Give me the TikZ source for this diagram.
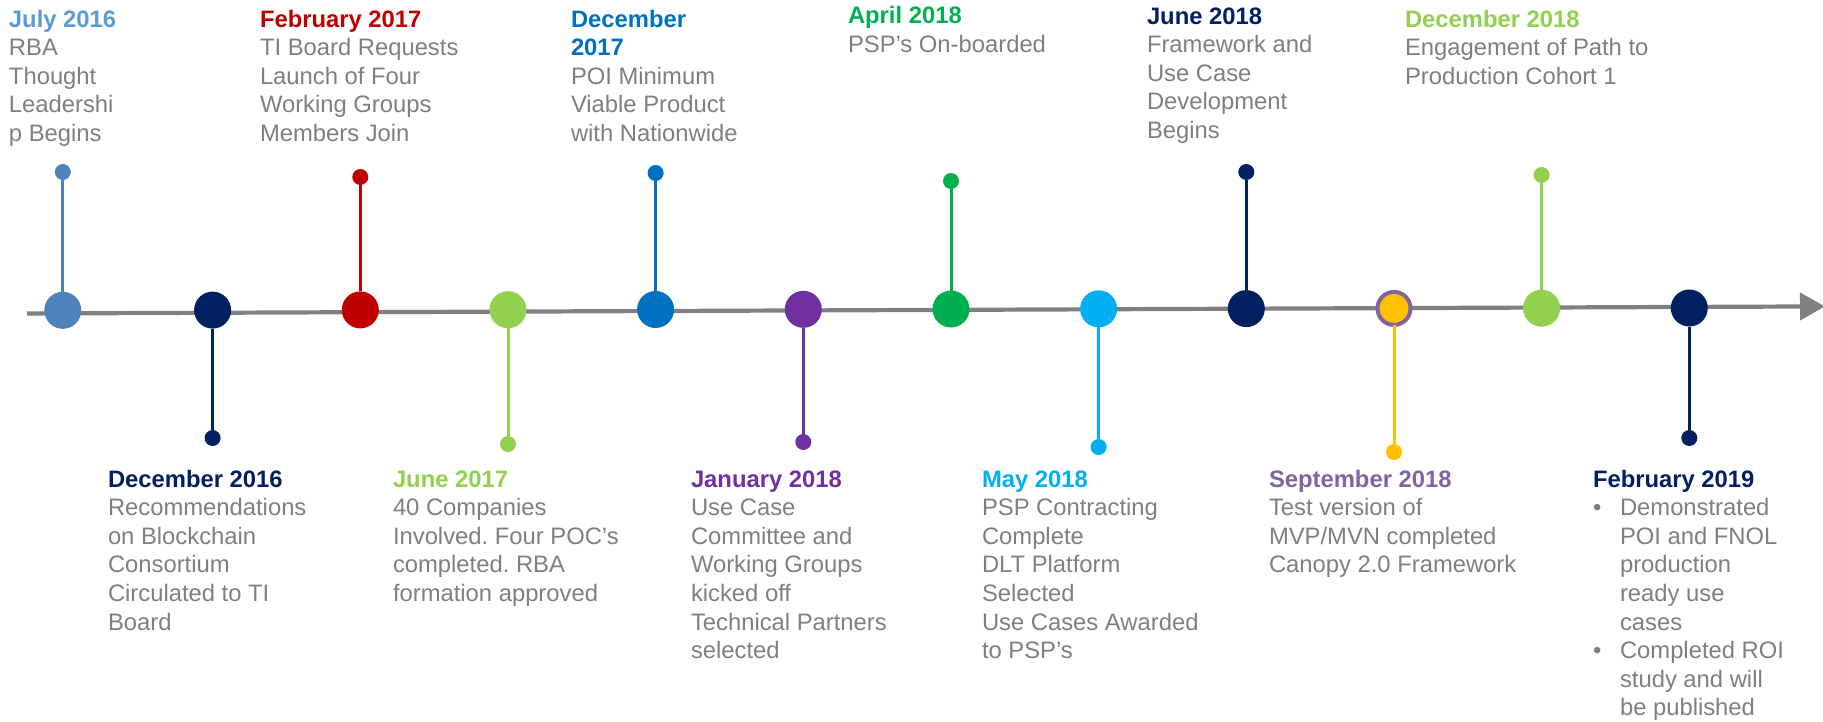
\documentclass[tikz,border=0pt]{standalone}
\usepackage{fontspec}
\setmainfont{Liberation Sans}
\usetikzlibrary{arrows.meta}
\frenchspacing

% palette
\definecolor{txtgray}{HTML}{7F7F7F}
\definecolor{axisgray}{HTML}{808080}
\definecolor{steel}{HTML}{4F81BD}
\definecolor{skyhead}{HTML}{5B9BD5}
\definecolor{navy}{HTML}{002060}
\definecolor{darkred}{HTML}{C00000}
\definecolor{lime}{HTML}{92D050}
\definecolor{midblue}{HTML}{0070C0}
\definecolor{violet}{HTML}{7030A0}
\definecolor{leaf}{HTML}{00B050}
\definecolor{cyanblue}{HTML}{00B0F0}
\definecolor{lilac}{HTML}{8064A2}
\definecolor{amber}{HTML}{FFC000}

% heading line of a text block
\newcommand{\headline}[2]{\textcolor{#1}{\bfseries #2}}
% bullet item helpers
\newcommand{\bulletitem}{\makebox[27pt][l]{•}}
\newcommand{\bulletcont}{\hspace*{27pt}}

\tikzset{
  blocktext/.style={anchor=base west, inner sep=0pt, outer sep=0pt, text=txtgray,
                    font=\fontsize{23.8}{28.6}\selectfont},
  bigdot/.style={circle, inner sep=0pt, outer sep=0pt, minimum size=37pt, fill=#1},
  smalldot/.style={circle, inner sep=0pt, outer sep=0pt, minimum size=16pt, fill=#1},
  stemline/.style={draw=#1, line width=3pt},
}

\begin{document}
\begin{tikzpicture}[x=1pt,y=-1pt]
\useasboundingbox (0,0) rectangle (1823,721);

% time axis
\coordinate (axisstart) at (27,313.5);
\coordinate (axisend) at (1825,306.4);
\draw[axisgray, line width=4.2pt, -{Triangle[length=25pt,width=27pt]}] (axisstart) -- (axisend);

% milestone markers on the axis
\node[bigdot=steel]    (m1)  at (62.8,310.3) {};
\node[bigdot=navy]     (m2)  at (212.6,310.1) {};
\node[bigdot=darkred]  (m3)  at (360.3,309.9) {};
\node[bigdot=lime]     (m4)  at (508.0,309.7) {};
\node[bigdot=midblue]  (m5)  at (655.6,309.5) {};
\node[bigdot=violet]   (m6)  at (803.3,309.3) {};
\node[bigdot=leaf]     (m7)  at (951.0,309.0) {};
\node[bigdot=cyanblue] (m8)  at (1098.6,308.8) {};
\node[bigdot=navy]     (m9)  at (1246.3,308.6) {};
\node[circle, inner sep=0pt, outer sep=0pt, minimum size=33pt, fill=amber, draw=lilac, line width=4pt]
                       (m10) at (1394.0,308.4) {};
\node[bigdot=lime]     (m11) at (1541.6,308.2) {};
\node[bigdot=navy]     (m12) at (1689.3,308.0) {};

% pin heads
\node[smalldot=steel]    (p1)  at (62.8,172) {};
\node[smalldot=navy]     (p2)  at (212.6,438) {};
\node[smalldot=darkred]  (p3)  at (360.3,177) {};
\node[smalldot=lime]     (p4)  at (508.0,444) {};
\node[smalldot=midblue]  (p5)  at (655.6,173) {};
\node[smalldot=violet]   (p6)  at (803.3,442) {};
\node[smalldot=leaf]     (p7)  at (951.0,181) {};
\node[smalldot=cyanblue] (p8)  at (1098.6,447) {};
\node[smalldot=navy]     (p9)  at (1246.3,172) {};
\node[smalldot=amber]    (p10) at (1394.0,452) {};
\node[smalldot=lime]     (p11) at (1541.6,175) {};
\node[smalldot=navy]     (p12) at (1689.3,438) {};

% pins joining each marker to its head
\draw[stemline=steel]    (m1)  -- (p1);
\draw[stemline=navy]     (m2)  -- (p2);
\draw[stemline=darkred]  (m3)  -- (p3);
\draw[stemline=lime]     (m4)  -- (p4);
\draw[stemline=midblue]  (m5)  -- (p5);
\draw[stemline=violet]   (m6)  -- (p6);
\draw[stemline=leaf]     (m7)  -- (p7);
\draw[stemline=cyanblue] (m8)  -- (p8);
\draw[stemline=navy]     (m9)  -- (p9);
\draw[stemline=amber]    (m10) -- (p10);
\draw[stemline=lime]     (m11) -- (p11);
\draw[stemline=navy]     (m12) -- (p12);

% upper text blocks
\node[blocktext] (t1) at (9,27) {\begin{tabular}[t]{@{}l@{}}
  \headline{skyhead}{July 2016}\\ RBA\\ Thought\\ Leadershi\\ p Begins\end{tabular}};
\node[blocktext] (t3) at (260,27) {\begin{tabular}[t]{@{}l@{}}
  \headline{darkred}{February 2017}\\ TI Board Requests\\ Launch of Four\\ Working Groups\\ Members Join\end{tabular}};
\node[blocktext] (t5) at (571,27) {\begin{tabular}[t]{@{}l@{}}
  \headline{midblue}{December}\\ \headline{midblue}{2017}\\ POI Minimum\\ Viable Product\\ with Nationwide\end{tabular}};
\node[blocktext] (t7) at (848,23.5) {\begin{tabular}[t]{@{}l@{}}
  \headline{leaf}{April 2018}\\ PSP’s On-boarded\end{tabular}};
\node[blocktext] (t9) at (1147,24) {\begin{tabular}[t]{@{}l@{}}
  \headline{navy}{June 2018}\\ Framework and\\ Use Case\\ Development\\ Begins\end{tabular}};
\node[blocktext] (t11) at (1405,27) {\begin{tabular}[t]{@{}l@{}}
  \headline{lime}{December 2018}\\ Engagement of Path to\\ Production Cohort 1\end{tabular}};

% lower text blocks
\node[blocktext] (t2) at (108,487) {\begin{tabular}[t]{@{}l@{}}
  \headline{navy}{December 2016}\\ Recommendations\\ on Blockchain\\ Consortium\\ Circulated to TI\\ Board\end{tabular}};
\node[blocktext] (t4) at (393,487) {\begin{tabular}[t]{@{}l@{}}
  \headline{lime}{June 2017}\\ 40 Companies\\ Involved. Four POC’s\\ completed. RBA\\ formation approved\end{tabular}};
\node[blocktext] (t6) at (691,487) {\begin{tabular}[t]{@{}l@{}}
  \headline{violet}{January 2018}\\ Use Case\\ Committee and\\ Working Groups\\ kicked off\\ Technical Partners\\ selected\end{tabular}};
\node[blocktext] (t8) at (982,487) {\begin{tabular}[t]{@{}l@{}}
  \headline{cyanblue}{May 2018}\\ PSP Contracting\\ Complete\\ DLT Platform\\ Selected\\ Use Cases Awarded\\ to PSP’s\end{tabular}};
\node[blocktext] (t10) at (1269,487) {\begin{tabular}[t]{@{}l@{}}
  \headline{lilac}{September 2018}\\ Test version of\\ MVP/MVN completed\\ Canopy 2.0 Framework\end{tabular}};
\node[blocktext] (t12) at (1593,487) {\begin{tabular}[t]{@{}l@{}}
  \headline{navy}{February 2019}\\
  \bulletitem Demonstrated\\ \bulletcont POI and FNOL\\ \bulletcont production\\
  \bulletcont ready use\\ \bulletcont cases\\
  \bulletitem Completed ROI\\ \bulletcont study and will\\ \bulletcont be published\end{tabular}};
\end{tikzpicture}
\end{document}
